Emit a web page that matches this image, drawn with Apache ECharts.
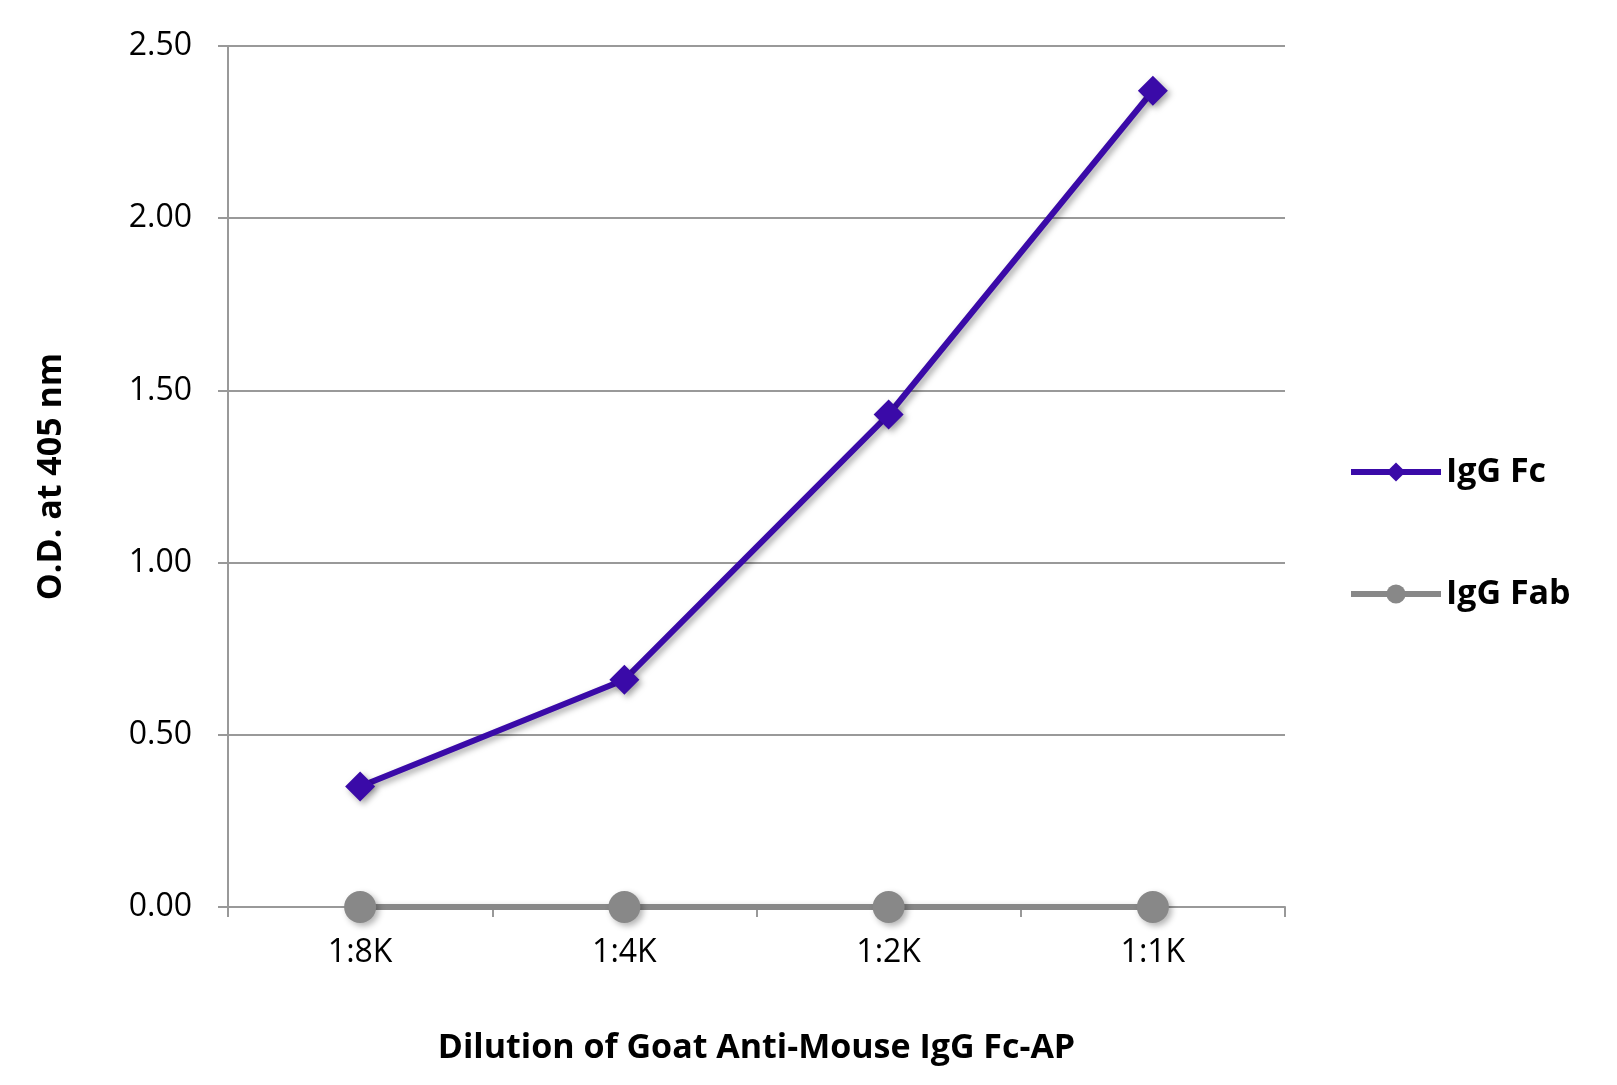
<!DOCTYPE html>
<html><head><meta charset="utf-8">
<script src="https://cdn.jsdelivr.net/npm/echarts@6/dist/echarts.min.js"></script>
<style>html,body{margin:0;padding:0;background:#fff}#c{width:1617px;height:1085px}</style>
</head><body><div id="c"></div>
<script>
const categories = ['1:8K','1:4K','1:2K','1:1K'];
const igGFc = [0.35, 0.66, 1.43, 2.37];
const igGFab = [0.0, 0.0, 0.0, 0.0];
const font = '"Open Sans", "Noto Sans", sans-serif';
const chart = echarts.init(document.getElementById('c'));
chart.setOption({
  animation:false,
  grid:{left:228, right:332, top:46, bottom:178},
  legend:{
    orient:'vertical', left:1343, top:450, itemGap:88, itemWidth:90, itemHeight:24,
    textStyle:{fontSize:34, fontWeight:'bold', fontFamily:font, color:'#000'},
    data:[
      {name:'IgG Fc', itemStyle:{color:'#3a0aa8'}, lineStyle:{width:6, color:'#3a0aa8'}},
      {name:'IgG Fab', itemStyle:{color:'#888'}, lineStyle:{width:6, color:'#888'}}
    ]
  },
  xAxis:{
    type:'category', data:categories, boundaryGap:true,
    name:'Dilution of Goat Anti-Mouse IgG Fc-AP', nameLocation:'middle', nameGap:124,
    nameTextStyle:{fontSize:34, fontWeight:'bold', fontFamily:font, color:'#000'},
    axisLine:{lineStyle:{color:'#999', width:2}},
    axisTick:{show:true, length:10, lineStyle:{color:'#999', width:2}},
    axisLabel:{fontSize:32, fontFamily:font, color:'#000', margin:30}
  },
  yAxis:{
    type:'value', min:0, max:2.5, interval:0.5,
    name:'O.D. at 405 nm', nameLocation:'middle', nameGap:160,
    nameTextStyle:{fontSize:34, fontWeight:'bold', fontFamily:font, color:'#000'},
    axisLine:{show:true, lineStyle:{color:'#999', width:2}},
    axisTick:{show:true, length:10, lineStyle:{color:'#999', width:2}},
    axisLabel:{fontSize:32, fontFamily:font, color:'#000', margin:36, formatter:v=>v.toFixed(2)},
    splitLine:{lineStyle:{color:'#999', width:2}}
  },
  series:[
    {name:'IgG Fc', type:'line', data:igGFc, symbol:'diamond', symbolSize:30,
     lineStyle:{color:'#3a0aa8', width:6, shadowBlur:6, shadowColor:'rgba(0,0,0,0.35)', shadowOffsetX:3, shadowOffsetY:3},
     itemStyle:{color:'#3a0aa8', shadowBlur:6, shadowColor:'rgba(0,0,0,0.35)', shadowOffsetX:3, shadowOffsetY:3}},
    {name:'IgG Fab', type:'line', data:igGFab, symbol:'circle', symbolSize:32,
     lineStyle:{color:'#888', width:6, shadowBlur:6, shadowColor:'rgba(0,0,0,0.3)', shadowOffsetX:3, shadowOffsetY:3},
     itemStyle:{color:'#888', shadowBlur:6, shadowColor:'rgba(0,0,0,0.3)', shadowOffsetX:3, shadowOffsetY:3}}
  ]
});
</script></body></html>
